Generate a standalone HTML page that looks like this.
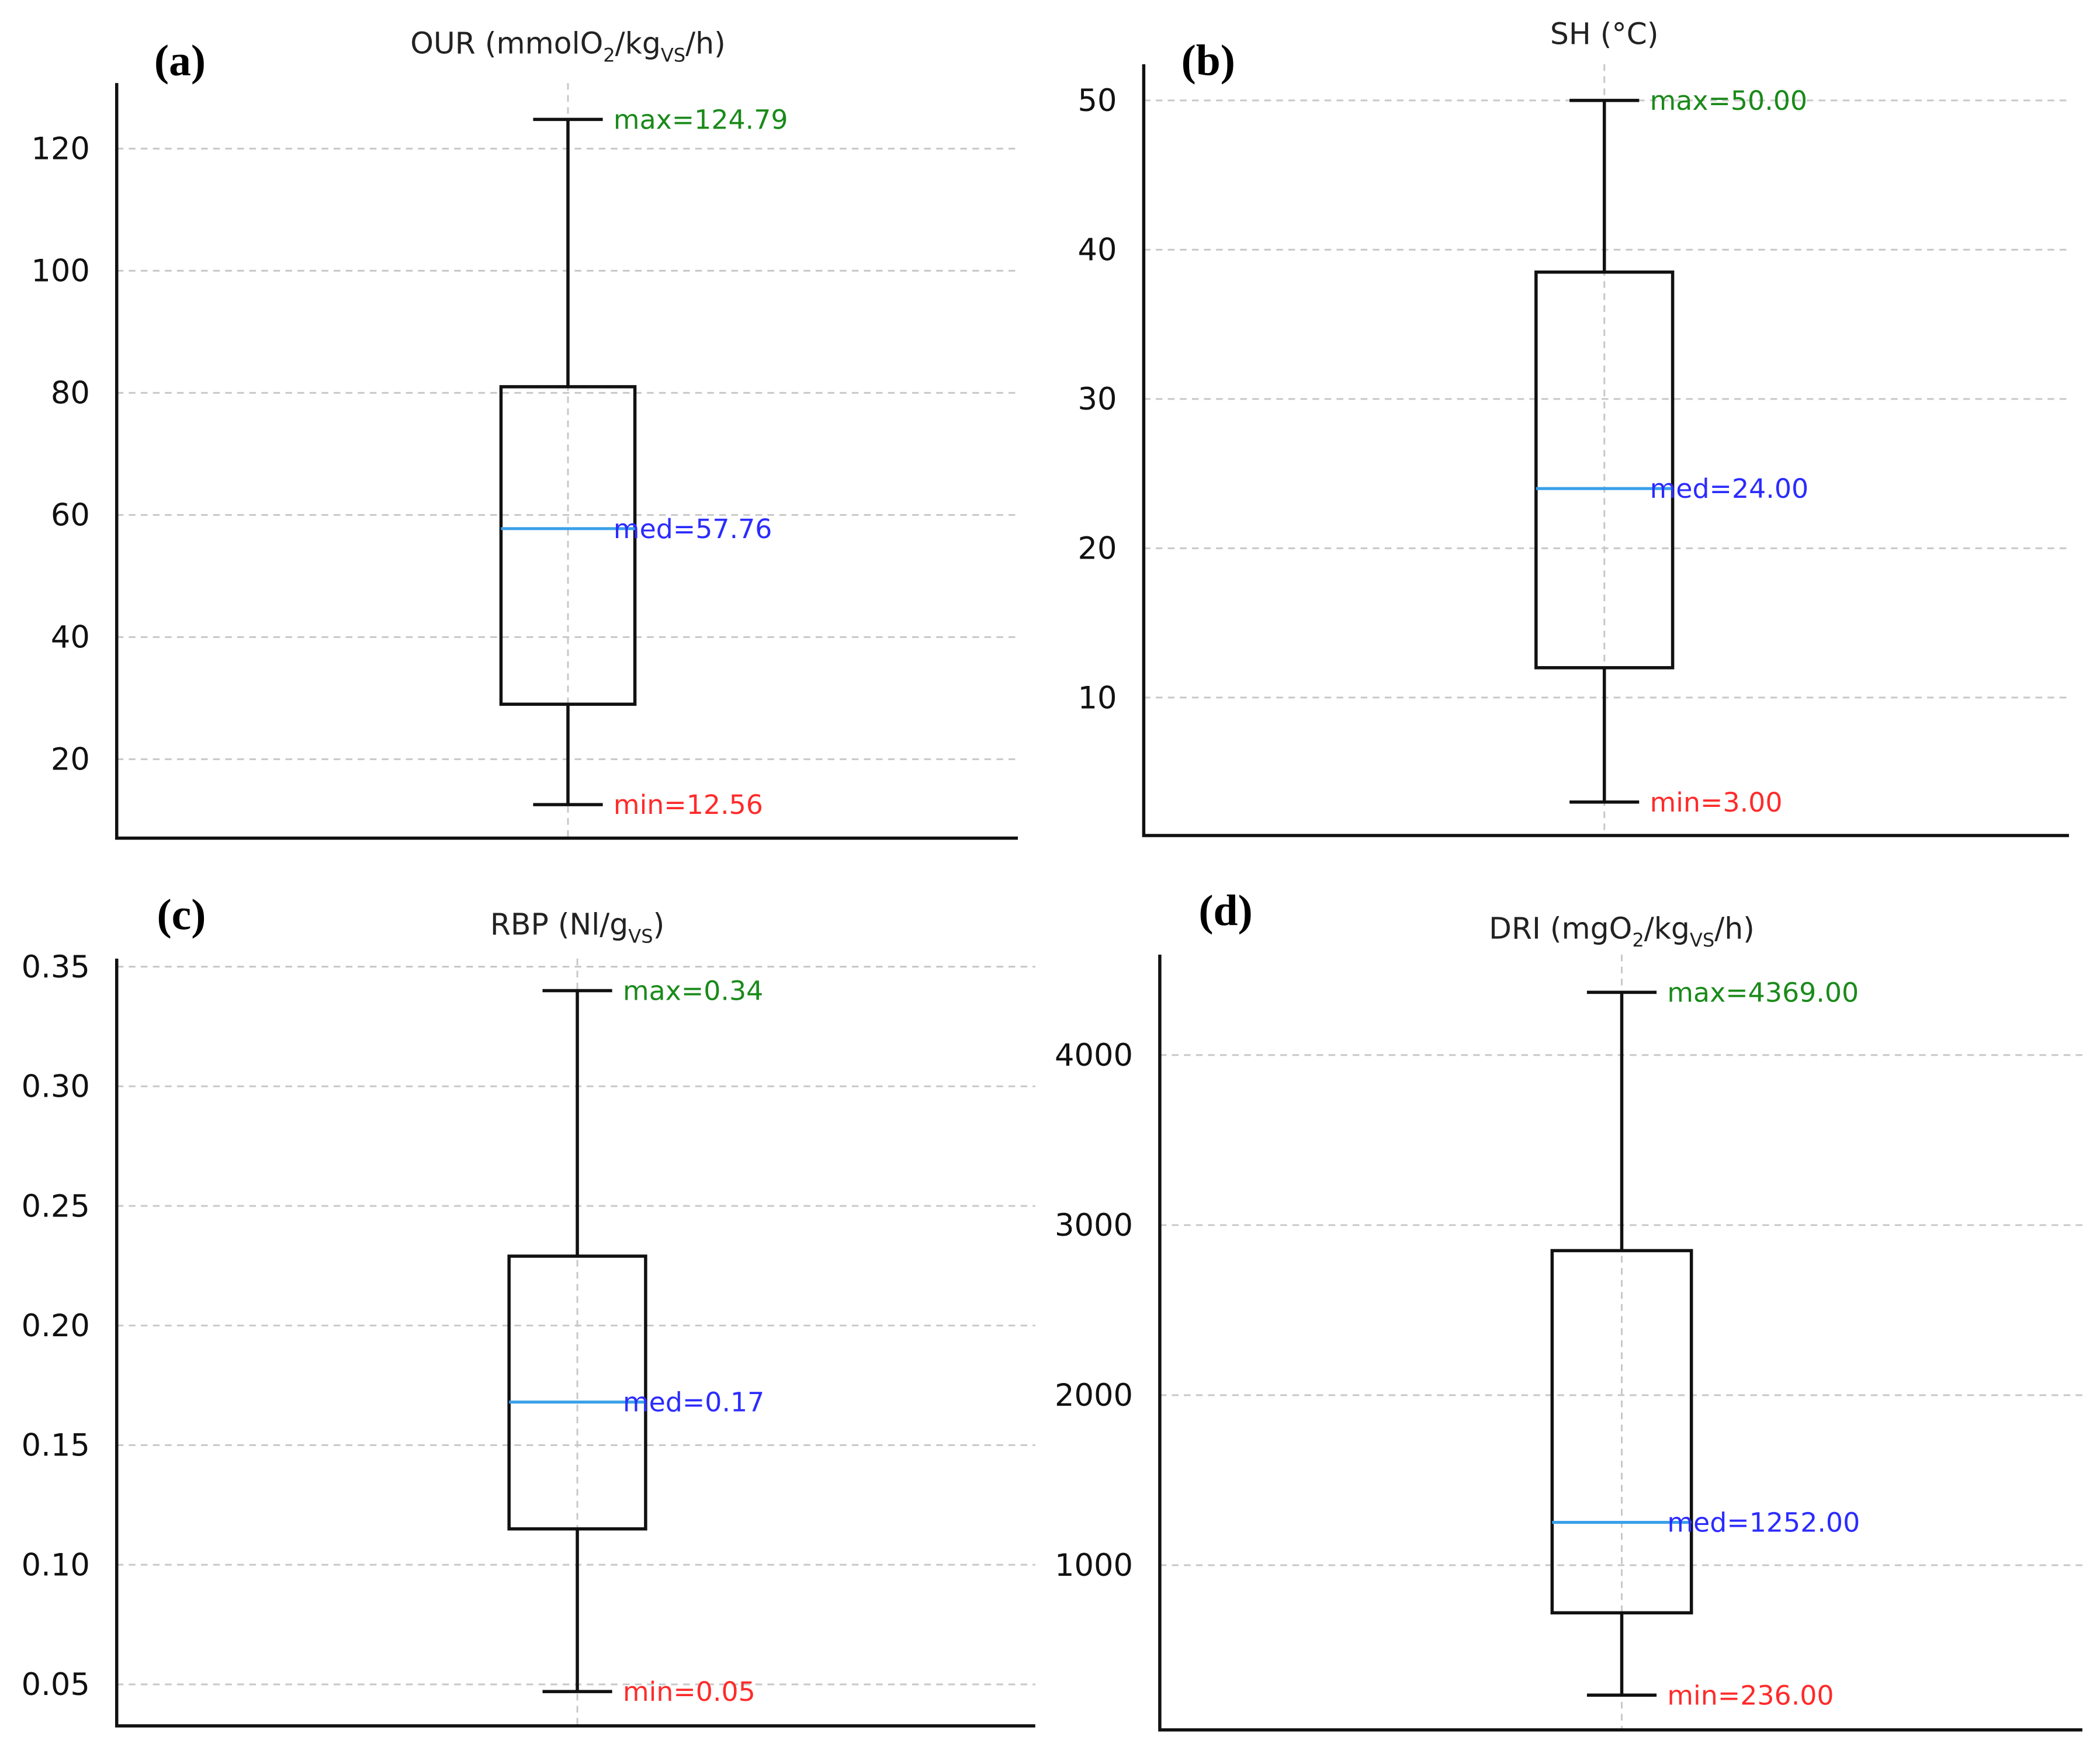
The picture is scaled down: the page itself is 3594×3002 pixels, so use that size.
<!DOCTYPE html>
<html><head><meta charset="utf-8"><style>
html,body{margin:0;padding:0;background:#fff;}
svg{display:block;}
</style></head><body>
<svg id="fig" width="3594" height="3002" viewBox="0 0 1568 1310" xmlns="http://www.w3.org/2000/svg" font-family="'DejaVu Sans','Liberation Sans',sans-serif"></svg>
<script>
const panelLetters = ['(a)','(b)','(c)','(d)'];
const panelNames = ['our','sh','rbp','dri'];
const maxVals = [124.79, 50.00, 0.34, 4369.00];
const q3Vals = [81, 38.5, 0.229, 2850];
const medVals = [57.76, 24.00, 0.168, 1252.00];
const q1Vals = [29, 12, 0.115, 720];
const minVals = [12.56, 3.00, 0.047, 236.00];
const maxLabels = ['124.79','50.00','0.34','4369.00'];
const medLabels = ['57.76','24.00','0.17','1252.00'];
const minLabels = ['12.56','3.00','0.05','236.00'];
const ticksA = [20,40,60,80,100,120];
const ticksB = [10,20,30,40,50];
const ticksC = [0.05,0.10,0.15,0.20,0.25,0.30,0.35];
const ticksD = [1000,2000,3000,4000];
const tickLists = [ticksA,ticksB,ticksC,ticksD];
const tickFmt = [v=>String(v), v=>String(v), v=>v.toFixed(2), v=>String(v)];

const L = [
 {x0:87,x1:760,top:62,bot:626,cx:424,hw:50,v0:20,p0:567,v1:120,p1:111,ty:32,lx:115,ly:45},
 {x0:854,x1:1545,top:48,bot:624,cx:1198,hw:51,v0:10,p0:521,v1:50,p1:75,ty:25,lx:882,ly:45},
 {x0:87,x1:773,top:716,bot:1289,cx:431,hw:51,v0:0.05,p0:1258,v1:0.35,p1:722,ty:690,lx:117,ly:683},
 {x0:866,x1:1555,top:713,bot:1292,cx:1211,hw:52,v0:1000,p0:1169,v1:4000,p1:788,ty:693,lx:895,ly:680}
];
const NS='http://www.w3.org/2000/svg';
const svg=document.getElementById('fig');
function mk(tag,attrs,parent){const e=document.createElementNS(NS,tag);for(const k in attrs)e.setAttribute(k,attrs[k]);(parent||svg).appendChild(e);return e;}
const titles=[
 '<tspan>OUR (mmolO</tspan><tspan font-size="14" dy="6">2</tspan><tspan dy="-6">/kg</tspan><tspan font-size="14" dy="6">VS</tspan><tspan dy="-6">/h)</tspan>',
 'SH (°C)',
 '<tspan>RBP (Nl/g</tspan><tspan font-size="14" dy="6">VS</tspan><tspan dy="-6">)</tspan>',
 '<tspan>DRI (mgO</tspan><tspan font-size="14" dy="6">2</tspan><tspan dy="-6">/kg</tspan><tspan font-size="14" dy="6">VS</tspan><tspan dy="-6">/h)</tspan>'
];
L.forEach((p,i)=>{
  const g=mk('g',{});
  
  
  const y=v=>p.p0+(v-p.v0)*(p.p1-p.p0)/(p.v1-p.v0);
  tickLists[i].forEach(t=>{
    const gl=mk('line',{x1:p.x0,x2:p.x1,y1:y(t),y2:y(t),stroke:'#c8c8c8','stroke-width':1.3,'stroke-dasharray':'5,4'},g);
    
    
    const tl=mk('text',{x:p.x0-20,y:y(t)+8,'text-anchor':'end','font-size':23,fill:'#111'},g);
    
    
    tl.textContent=tickFmt[i](t);
  });
  const vg=mk('line',{x1:p.cx,x2:p.cx,y1:p.top,y2:p.bot,stroke:'#c8c8c8','stroke-width':1.3,'stroke-dasharray':'5,4'},g);
  
  
  const ax=mk('path',{d:`M${p.x0},${p.top}V${p.bot}H${p.x1}`,fill:'none',stroke:'#111','stroke-width':2.4},g);
  
  
  const w=mk('path',{d:`M${p.cx},${y(maxVals[i])}V${y(q3Vals[i])}M${p.cx},${y(q1Vals[i])}V${y(minVals[i])}M${p.cx-26},${y(maxVals[i])}H${p.cx+26}M${p.cx-26},${y(minVals[i])}H${p.cx+26}`,fill:'none',stroke:'#111','stroke-width':2.4},g);
  
  
  const b=mk('rect',{x:p.cx-p.hw,y:y(q3Vals[i]),width:2*p.hw,height:y(q1Vals[i])-y(q3Vals[i]),fill:'none',stroke:'#111','stroke-width':2.4},g);
  
  
  const m=mk('line',{x1:p.cx-p.hw,x2:p.cx+p.hw,y1:y(medVals[i]),y2:y(medVals[i]),stroke:'#3aa0e8','stroke-width':2.2},g);
  
  
  const ann=[[maxVals[i],'max='+maxLabels[i],'#1a8a1a','max-label'],[medVals[i],'med='+medLabels[i],'#2b2bff','median-label'],[minVals[i],'min='+minLabels[i],'#ff2a2a','min-label']];
  ann.forEach(a=>{
    const t=mk('text',{x:p.cx+34,y:y(a[0])+7,'font-size':20,fill:a[2]},g);
    
    
    t.textContent=a[1];
  });
  const tt=mk('text',{x:p.cx,y:p.ty+8,'text-anchor':'middle','font-size':22,fill:'#222'},g);
  
  
  tt.innerHTML=titles[i];
  const lt=mk('text',{x:p.lx,y:p.ly+11,'font-size':33,'font-weight':'bold','font-family':"'Liberation Serif',serif",fill:'#000'},g);
  
  
  lt.textContent=panelLetters[i];
});
</script>
</body></html>
